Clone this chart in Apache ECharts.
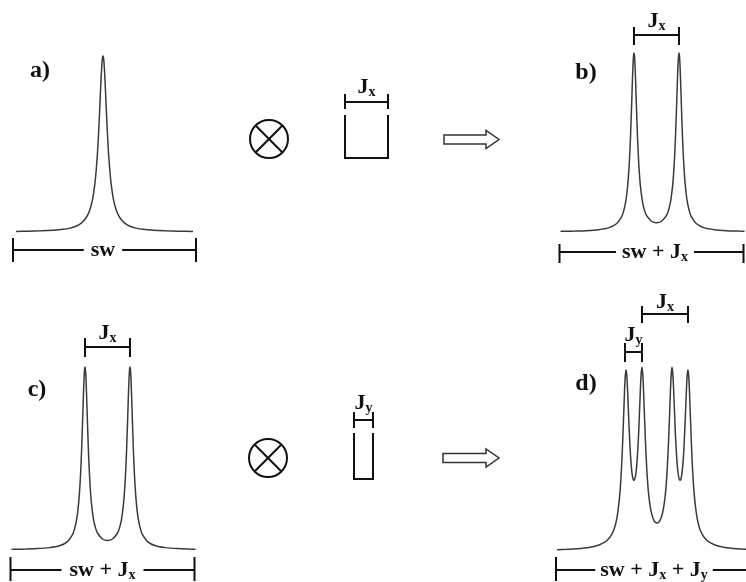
<!DOCTYPE html>
<html>
<head>
<meta charset="utf-8">
<script src="https://cdn.jsdelivr.net/npm/echarts@6/dist/echarts.min.js"></script>
<style>
  html, body { margin: 0; background: #fff; }
  #chart { width: 746px; height: 582px; }
</style>
</head>
<body>
<div id="chart"></div>
<script>
// line shapes: [offset from multiplet centre, intensity / tallest line]
const singlet = [
  [-87, 0.0033], [-75, 0.0044], [-62, 0.0065], [-50, 0.0099], [-40, 0.015], [-33, 0.022],
  [-27, 0.033], [-22, 0.049], [-18, 0.072], [-15, 0.1], [-13.5, 0.121], [-12, 0.148],
  [-11, 0.171], [-10, 0.2], [-9, 0.236], [-8, 0.281], [-7, 0.338], [-6, 0.41],
  [-5.5, 0.452], [-5, 0.5], [-4.5, 0.552], [-4, 0.61], [-3.5, 0.671], [-3, 0.735],
  [-2.5, 0.8], [-2, 0.862], [-1.5, 0.917], [-1, 0.962], [-0.5, 0.99], [0, 1],
  [0.5, 0.99], [1, 0.962], [1.5, 0.917], [2, 0.862], [2.5, 0.8], [3, 0.735],
  [3.5, 0.671], [4, 0.61], [4.5, 0.552], [5, 0.5], [5.5, 0.452], [6, 0.41],
  [7, 0.338], [8, 0.281], [9, 0.236], [10, 0.2], [11, 0.171], [12, 0.148],
  [13.5, 0.121], [15, 0.1], [18, 0.072], [22, 0.049], [27, 0.033], [33, 0.022],
  [40, 0.015], [50, 0.0099], [62, 0.0065], [75, 0.0044], [90, 0.0031]
];

const doublet = [
  [-96, 0.0035], [-88, 0.0042], [-82, 0.0051], [-70, 0.0076], [-58, 0.013], [-48, 0.023],
  [-40, 0.046], [-35, 0.084], [-33, 0.114], [-31, 0.163], [-29.5, 0.222], [-28, 0.315],
  [-27, 0.406], [-26, 0.53], [-25, 0.688], [-24.5, 0.775], [-24, 0.859], [-23.5, 0.932],
  [-23, 0.982], [-22.5, 1], [-22, 0.982], [-21.5, 0.933], [-21, 0.86], [-20.5, 0.776],
  [-20, 0.69], [-19, 0.532], [-18, 0.409], [-17, 0.318], [-16, 0.252], [-14, 0.168],
  [-12, 0.121], [-10, 0.093], [-5, 0.06], [0, 0.052], [5, 0.06], [10, 0.093],
  [12, 0.121], [14, 0.168], [16, 0.252], [17, 0.318], [18, 0.409], [19, 0.532],
  [20, 0.69], [20.5, 0.776], [21, 0.86], [21.5, 0.933], [22, 0.982], [22.5, 1],
  [23, 0.982], [23.5, 0.932], [24, 0.859], [24.5, 0.775], [25, 0.688], [26, 0.53],
  [27, 0.406], [28, 0.315], [29.5, 0.222], [31, 0.163], [33, 0.114], [35, 0.084],
  [40, 0.046], [48, 0.023], [58, 0.013], [70, 0.0076], [82, 0.0051], [88, 0.0042]
];

const quartet = [
  [-100, 0.007], [-90, 0.0093], [-80, 0.0125], [-68, 0.0196], [-58, 0.0325], [-50, 0.057],
  [-44, 0.104], [-40, 0.184], [-37, 0.323], [-35, 0.508], [-33.5, 0.717], [-32.5, 0.868],
  [-31.8, 0.95], [-31, 0.991], [-30.2, 0.961], [-29.5, 0.889], [-28.5, 0.753], [-27, 0.568],
  [-26, 0.483], [-25, 0.426], [-24, 0.395], [-23, 0.386], [-22, 0.397], [-21, 0.429],
  [-20, 0.487], [-19, 0.574], [-18.2, 0.662], [-17.5, 0.761], [-16.5, 0.898], [-15.8, 0.972],
  [-15, 1.004], [-14.2, 0.964], [-13.5, 0.883], [-12.5, 0.734], [-11.5, 0.591], [-10, 0.426],
  [-9, 0.349], [-8, 0.292], [-6, 0.219], [-4, 0.179], [-2, 0.159], [0, 0.153],
  [2, 0.159], [4, 0.179], [6, 0.219], [8, 0.292], [9, 0.349], [10, 0.426],
  [11.5, 0.591], [12.5, 0.734], [13.5, 0.883], [14.2, 0.964], [15, 1.004], [15.8, 0.972],
  [16.5, 0.898], [17.5, 0.761], [18.2, 0.662], [19, 0.574], [20, 0.487], [21, 0.429],
  [22, 0.397], [23, 0.386], [24, 0.395], [25, 0.426], [26, 0.483], [27, 0.568],
  [28.5, 0.753], [29.5, 0.889], [30.2, 0.961], [31, 0.991], [31.8, 0.95], [32.5, 0.868],
  [33.5, 0.717], [35, 0.508], [37, 0.323], [40, 0.184], [44, 0.104], [50, 0.057],
  [58, 0.0325], [68, 0.0196], [80, 0.0125], [90, 0.0093]
];

// spans marked by the brackets (same offsets as the line shapes)
const swA = [-90, 93];
const swBC = [-97, 87];
const swD = [-101, 93];
const jxBC = [-22.5, 22.5];
const jxD = [-15, 31];
const jyD = [-32, -15];

const panelLabels = ['a)', 'b)', 'c)', 'd)'];
const swTexts = ['{m|sw}', '{m|sw + J}{s|x}', '{m|sw + J}{s|x}', '{m|sw + J}{s|x}{m| + J}{s|y}'];

// page layout, in pixels (grids kept inside the 746x582 page)
const panels = [
  { cx: 103, base: 232, h: 176, xmin: -100, xmax: 100, ymin: -0.3, ymax: 1.1, shape: singlet },
  { cx: 656.5, base: 232, h: 179, xmin: -100, xmax: 89.5, ymin: -0.3, ymax: 1.25, shape: doublet },
  { cx: 107.5, base: 550, h: 183, xmin: -104, xmax: 100, ymin: -0.17, ymax: 1.25, shape: doublet },
  { cx: 657, base: 551, h: 183, xmin: -104, xmax: 89, ymin: -0.168, ymax: 1.4, shape: quartet }
];

const ink = '#111';
const curveColor = '#3a3a3a';
const serif = '"Liberation Serif", "DejaVu Serif", serif';
const rich = {
  m: { fontFamily: serif, fontWeight: 'bold', fontSize: 22, fill: ink, color: ink, lineHeight: 24 },
  s: { fontFamily: serif, fontWeight: 'bold', fontSize: 14, fill: ink, color: ink, lineHeight: 15, verticalAlign: 'bottom' }
};

const grids = panels.map(p => ({
  left: p.cx + p.xmin,
  width: p.xmax - p.xmin,
  top: p.base - p.ymax * p.h,
  height: (p.ymax - p.ymin) * p.h,
  show: false
}));
const xAxes = panels.map((p, i) => ({ type: 'value', gridIndex: i, min: p.xmin, max: p.xmax, show: false }));
const yAxes = panels.map((p, i) => ({ type: 'value', gridIndex: i, min: p.ymin, max: p.ymax, show: false }));

// pixel row -> intensity units of panel i
const yv = (i, py) => (panels[i].base - py) / panels[i].h;

const series = [];

panels.forEach((p, i) => {
  series.push({
    type: 'line',
    xAxisIndex: i,
    yAxisIndex: i,
    data: p.shape,
    showSymbol: false,
    smooth: 0.2,
    silent: true,
    lineStyle: { color: curveColor, width: 1.5 }
  });
});

function bracket(i, span, py, tickTop, tickBot) {
  const y = yv(i, py), t0 = yv(i, tickTop), t1 = yv(i, tickBot);
  series.push({
    type: 'lines',
    coordinateSystem: 'cartesian2d',
    xAxisIndex: i,
    yAxisIndex: i,
    polyline: true,
    silent: true,
    lineStyle: { color: ink, width: 2, opacity: 1 },
    data: [
      { coords: [[span[0], t0], [span[0], t1]] },
      { coords: [[span[0], y], [span[1], y]] },
      { coords: [[span[1], t0], [span[1], t1]] }
    ]
  });
}

// spectral-width brackets under each spectrum
bracket(0, swA, 250, 238, 262);
bracket(1, swBC, 252, 244, 263);
bracket(2, swBC, 570, 557, 581);
bracket(3, swD, 570, 557, 581);

// coupling brackets above the multiplets
bracket(1, jxBC, 35, 27, 45);
bracket(2, jxBC, 347, 338, 357);
bracket(3, jyD, 352, 343, 362);
bracket(3, jxD, 314, 306, 323);

// text placed on the page, white box cuts the bracket line
function text(x, y, t, pad) {
  return {
    type: 'text',
    x: x,
    y: y,
    z: 100,
    style: {
      text: t,
      rich: rich,
      align: 'center',
      verticalAlign: 'middle',
      backgroundColor: pad ? '#fff' : 'transparent',
      padding: pad ? [0, pad] : 0
    }
  };
}
const texts = [
  text(103, 250, swTexts[0], 7),
  text(655, 252, swTexts[1], 6),
  text(102.5, 570, swTexts[2], 8),
  text(654, 570, swTexts[3], 5),
  text(656.5, 21, '{m|J}{s|x}'),
  text(107.5, 333, '{m|J}{s|x}'),
  text(633.5, 335, '{m|J}{s|y}'),
  text(665, 302, '{m|J}{s|x}')
];

// operators between the panels
const stroke = { stroke: ink, lineWidth: 2, fill: 'none' };
function otimes(cx, cy, r) {
  const d = r * 0.707;
  return [
    { type: 'circle', shape: { cx, cy, r }, style: stroke },
    { type: 'line', shape: { x1: cx - d, y1: cy - d, x2: cx + d, y2: cy + d }, style: stroke },
    { type: 'line', shape: { x1: cx - d, y1: cy + d, x2: cx + d, y2: cy - d }, style: stroke }
  ];
}
function kernel(x0, x1, top, bottom, by, bt, bb, t, ly) {
  return [
    { type: 'polyline', shape: { points: [[x0, top], [x0, bottom], [x1, bottom], [x1, top]] }, style: stroke },
    { type: 'line', shape: { x1: x0, y1: by, x2: x1, y2: by }, style: stroke },
    { type: 'line', shape: { x1: x0, y1: bt, x2: x0, y2: bb }, style: stroke },
    { type: 'line', shape: { x1: x1, y1: bt, x2: x1, y2: bb }, style: stroke },
    text((x0 + x1) / 2, ly, t)
  ];
}
function arrow(x0, x1, tip, cy) {
  return {
    type: 'polygon',
    shape: { points: [[x0, cy - 4.5], [x1, cy - 4.5], [x1, cy - 9], [tip, cy], [x1, cy + 9], [x1, cy + 4.5], [x0, cy + 4.5]] },
    style: { stroke: '#333', lineWidth: 1.5, fill: '#fff' }
  };
}
const labelPos = [[40, 71], [586, 73], [37, 390], [586, 384]];

const graphic = [].concat(
  texts,
  otimes(269, 139, 19),
  otimes(268, 458, 19),
  kernel(345, 388, 115, 158, 102, 94, 109, '{m|J}{s|x}', 87),
  kernel(354, 373, 433, 479, 420, 412, 428, '{m|J}{s|y}', 403),
  [arrow(444, 486, 499, 139.5), arrow(443, 486, 499, 458)],
  panelLabels.map((t, i) => ({
    type: 'text',
    x: labelPos[i][0],
    y: labelPos[i][1],
    style: { text: t, font: 'bold 24px ' + serif, fill: ink, align: 'center', verticalAlign: 'middle' }
  }))
);

const chart = echarts.init(document.getElementById('chart'));
chart.setOption({
  animation: false,
  backgroundColor: '#fff',
  grid: grids,
  xAxis: xAxes,
  yAxis: yAxes,
  series: series,
  graphic: graphic
});
</script>
</body>
</html>
